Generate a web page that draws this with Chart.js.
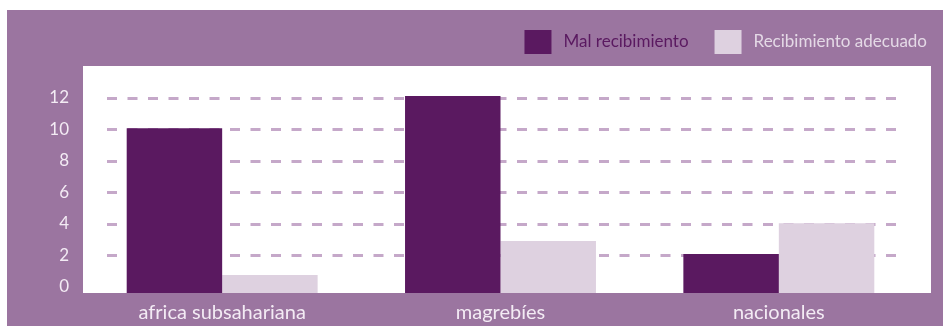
<!DOCTYPE html>
<html>
<head>
<meta charset="utf-8">
<script src="https://cdn.jsdelivr.net/npm/chart.js@4/dist/chart.umd.min.js"></script>
<style>
  html, body { margin: 0; padding: 0; background: #ffffff; }
  #wrap { width: 943px; height: 326px; }
</style>
</head>
<body>
<div id="wrap"><canvas id="c" width="943" height="326"></canvas></div>
<script>
// Reception survey by origin group
const categories = ['africa subsahariana', 'magrebíes', 'nacionales'];
const malRecibimiento = [10.05, 12.1, 2.07];
const recibimientoAdecuado = [0.74, 2.9, 4.02];
const seriesNames = ['Mal recibimiento', 'Recibimiento adecuado'];
const yTickValues = [0, 2, 4, 6, 8, 10, 12];

const COLORS = {
  frame: '#9b75a0',
  panel: '#ffffff',
  dark: '#5a1960',
  light: '#ded1e0',
  grid: '#c5a8c9',
  tickText: '#f3ebf4',
  legendLight: '#e4d9e6'
};
const FONT = 'Lato, "Open Sans", sans-serif';
const Y_FLOOR = -0.4;

// Purple frame with a white panel behind the plot
const backdrop = {
  id: 'backdrop',
  beforeDraw(chart) {
    const { ctx, chartArea: a, width, height } = chart;
    ctx.save();
    ctx.fillStyle = '#ffffff';
    ctx.fillRect(0, 0, width, height);
    ctx.fillStyle = COLORS.frame;
    ctx.fillRect(7, 10, width - 7, height - 10);
    ctx.fillStyle = COLORS.panel;
    ctx.fillRect(a.left, a.top, a.right - a.left + 13, a.bottom - a.top);
    ctx.restore();
  }
};

// Dashed horizontal guides at each labelled value above zero
const dashedGuides = {
  id: 'dashedGuides',
  beforeDatasetsDraw(chart) {
    const { ctx, chartArea: a, scales: { y } } = chart;
    ctx.save();
    ctx.strokeStyle = COLORS.grid;
    ctx.lineWidth = 3;
    ctx.setLineDash([10, 10.5]);
    yTickValues.filter(v => v > 0).forEach(v => {
      const py = Math.round(y.getPixelForValue(v)) + 0.5;
      ctx.beginPath();
      ctx.moveTo(a.left + 24, py);
      ctx.lineTo(a.right - 17, py);
      ctx.stroke();
    });
    ctx.restore();
  }
};

// Legend row in the top-right corner of the frame
const cornerLegend = {
  id: 'cornerLegend',
  afterDraw(chart) {
    const { ctx } = chart;
    const ds = chart.data.datasets;
    ctx.save();
    ctx.font = '17px ' + FONT;
    ctx.textBaseline = 'middle';
    const textColors = [COLORS.dark, COLORS.legendLight];
    const boxW = 27, boxH = 24, gapText = 12, gapItem = 26;
    let x = 927;
    const items = [];
    for (let i = ds.length - 1; i >= 0; i--) {
      const w = ctx.measureText(ds[i].label).width;
      const tx = x - w;
      const bx = tx - gapText - boxW;
      items.push({ i, tx, bx });
      x = bx - gapItem;
    }
    items.forEach(({ i, tx, bx }) => {
      ctx.fillStyle = ds[i].backgroundColor;
      ctx.fillRect(bx, 30, boxW, boxH);
      ctx.fillStyle = textColors[i];
      ctx.fillText(ds[i].label, tx, 42);
    });
    ctx.restore();
  }
};

new Chart(document.getElementById('c'), {
  type: 'bar',
  data: {
    labels: categories,
    datasets: [
      {
        label: seriesNames[0],
        data: malRecibimiento,
        backgroundColor: COLORS.dark,
        base: Y_FLOOR,
        barPercentage: 1,
        categoryPercentage: 0.686
      },
      {
        label: seriesNames[1],
        data: recibimientoAdecuado,
        backgroundColor: COLORS.light,
        base: Y_FLOOR,
        barPercentage: 1,
        categoryPercentage: 0.686
      }
    ]
  },
  options: {
    responsive: false,
    animation: false,
    layout: { padding: { top: 66, right: 25, left: 0, bottom: 0 } },
    plugins: {
      legend: { display: false },
      tooltip: { enabled: false }
    },
    scales: {
      x: {
        grid: { display: false, drawTicks: false },
        border: { display: false },
        ticks: {
          color: COLORS.tickText,
          font: { family: FONT, size: 20 },
          padding: 8,
          maxRotation: 0
        },
        afterFit(scale) { scale.height = 33; }
      },
      y: {
        min: Y_FLOOR,
        max: 14,
        grid: { display: false, drawTicks: false },
        border: { display: false },
        ticks: {
          color: COLORS.tickText,
          font: { family: FONT, size: 17 },
          padding: 14
        },
        afterBuildTicks(scale) {
          scale.ticks = yTickValues.map(v => ({ value: v }));
        },
        afterFit(scale) { scale.width = 83; }
      }
    }
  },
  plugins: [backdrop, dashedGuides, cornerLegend]
});
</script>
</body>
</html>
